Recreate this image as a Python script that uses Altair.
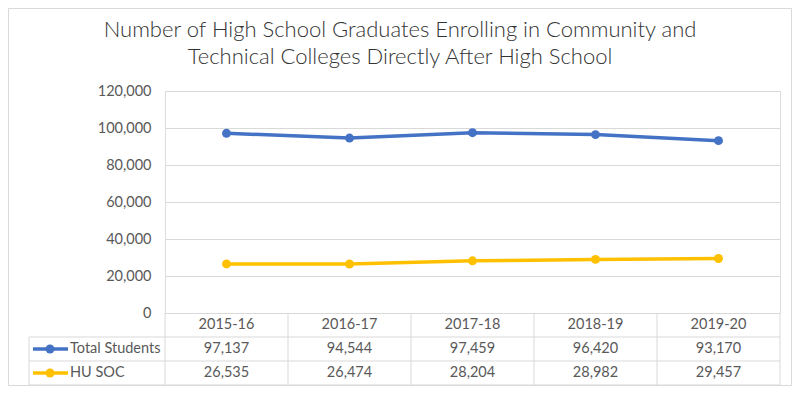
import altair as alt
import pandas as pd

years = ["2015-16", "2016-17", "2017-18", "2018-19", "2019-20"]
series_names = ["Total Students", "HU SOC"]
total_students = [97137, 94544, 97459, 96420, 93170]
hu_soc = [26535, 26474, 28204, 28982, 29457]
y_ticks = [0, 20000, 40000, 60000, 80000, 100000, 120000]
colors = ["#4472C4", "#FFC000"]
title_lines = ["Number of High School Graduates Enrolling in Community and",
               "Technical Colleges Directly After High School"]

rows = []
for name, vals in zip(series_names, [total_students, hu_soc]):
    for yr, v in zip(years, vals):
        rows.append({"year": yr, "series": name, "value": v})
df = pd.DataFrame(rows)
df_years = pd.DataFrame({"year": years})
df_series = pd.DataFrame({"series": series_names})
df_one = pd.DataFrame({"k": [0]})

W, H = 615, 222
FONT = "Lato"
GRAY = "#595959"
LINE = "#d9d9d9"

xband = alt.Scale(type="band", domain=years, paddingInner=0, paddingOuter=0)
color = alt.Color("series:N", scale=alt.Scale(domain=series_names, range=colors), legend=None)
row_y = alt.Y("series:N", scale=alt.Scale(type="point", domain=series_names, range=[258, 282], padding=0), axis=None)

base = alt.Chart(df)

lines = base.mark_line(strokeWidth=3.5, point=alt.OverlayMarkDef(size=80, filled=True, opacity=1)).encode(
    x=alt.X("year:N", scale=xband, axis=None),
    y=alt.Y("value:Q", scale=alt.Scale(domain=[0, 120000]),
            axis=alt.Axis(values=y_ticks, format=",d", title=None, domain=False, ticks=False,
                          labelPadding=14, labelFontSize=14.5, labelColor=GRAY, labelFont=FONT,
                          gridColor=LINE, gridWidth=1)),
    color=color,
)

table_text = base.mark_text(font=FONT, fontSize=14.5, color=GRAY, baseline="middle").encode(
    x=alt.X("year:N", scale=xband, axis=None),
    y=row_y,
    text=alt.Text("value:Q", format=",d"),
)

header_text = alt.Chart(df_years).mark_text(font=FONT, fontSize=14.5, color=GRAY, baseline="middle").encode(
    x=alt.X("year:N", scale=xband, axis=None),
    y=alt.value(234),
    text="year:N",
)

vlines = alt.Chart(df_years).mark_rule(color=LINE, strokeWidth=1).encode(
    x=alt.X("year:N", scale=xband, axis=None, bandPosition=0),
    y=alt.value(222), y2=alt.value(294),
)
vline_right = alt.Chart(df_one).mark_rule(color=LINE, strokeWidth=1).encode(
    x=alt.value(W), y=alt.value(222), y2=alt.value(294),
)
vline_left = alt.Chart(df_one).mark_rule(color=LINE, strokeWidth=1).encode(
    x=alt.value(-136), y=alt.value(246), y2=alt.value(294),
)
hlines = alt.Chart(pd.DataFrame({"yy": [246, 270, 294]})).mark_rule(color=LINE, strokeWidth=1).encode(
    x=alt.value(-136), x2=alt.value(W),
    y=alt.Y("yy:Q", scale=alt.Scale(domain=[0, H], range=[0, H]), axis=None),
)

swatch_line = alt.Chart(df_series).mark_rule(strokeWidth=3.5).encode(
    x=alt.value(-132), x2=alt.value(-97), y=row_y, color=color,
)
swatch_pt = alt.Chart(df_series).mark_point(size=80, filled=True, opacity=1).encode(
    x=alt.value(-115), y=row_y, color=color,
)
row_labels = alt.Chart(df_series).mark_text(font=FONT, fontSize=14.5, color=GRAY, align="left", baseline="middle").encode(
    x=alt.value(-95), y=row_y, text="series:N",
)

title = alt.Chart(df_one).mark_text(
    text=title_lines, font=FONT, fontSize=22, fontWeight=300, color="#333333", align="center",
    baseline="middle", lineHeight=27,
).encode(x=alt.value(235), y=alt.value(-61))

frame = alt.Chart(df_one).mark_rect(fill=None, stroke=LINE, strokeWidth=1).encode(
    x=alt.value(-156.5), x2=alt.value(W + 11.5), y=alt.value(-82.5), y2=alt.value(H + 72.5),
)

chart = alt.layer(
    frame, title, lines, vlines, vline_right, vline_left, hlines,
    header_text, table_text, swatch_line, swatch_pt, row_labels,
).resolve_scale(y="independent").properties(
    width=W, height=H,
    autosize=alt.AutoSizeParams(type="none"),
    padding={"left": 157, "top": 83, "right": 12, "bottom": 73},
).configure_view(stroke=None).configure(background="white")

chart.save("out.html", embed_options={"renderer": "svg", "actions": False})
